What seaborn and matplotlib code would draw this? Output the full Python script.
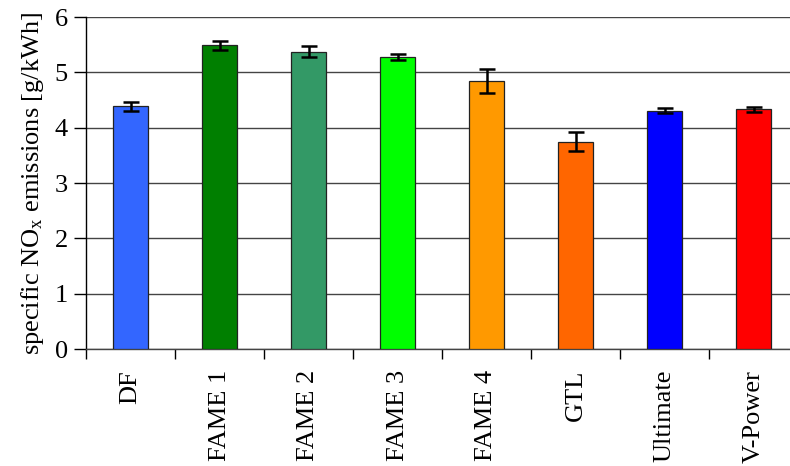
import matplotlib
matplotlib.use("Agg")
import matplotlib.pyplot as plt
import seaborn as sns
import pandas as pd
import numpy as np
from matplotlib.ticker import FixedLocator, MultipleLocator

categories = ["DF", "FAME 1", "FAME 2", "FAME 3", "FAME 4", "GTL", "Ultimate", "V-Power"]
values = [4.39, 5.49, 5.37, 5.28, 4.84, 3.75, 4.31, 4.33]
errors = [0.08, 0.08, 0.10, 0.06, 0.22, 0.17, 0.05, 0.05]
colors = ["#3366FF", "#007F00", "#339966", "#00FF00", "#FF9900", "#FF6600", "#0000FF", "#FF0000"]

FAM = "Liberation Serif"

sns.set_theme(style="white")
plt.rcParams["font.family"] = "serif"
plt.rcParams["font.serif"] = [FAM, "DejaVu Serif"]
plt.rcParams["mathtext.fontset"] = "custom"
plt.rcParams["mathtext.rm"] = FAM
plt.rcParams["mathtext.it"] = FAM + ":italic"
plt.rcParams["text.color"] = "black"
plt.rcParams["axes.labelcolor"] = "black"
plt.rcParams["xtick.color"] = "black"
plt.rcParams["ytick.color"] = "black"

df = pd.DataFrame({"fuel": categories, "nox": values})

fig = plt.figure(figsize=(7.9, 4.66), dpi=100)
ax = fig.add_axes([86 / 790, 1 - 349 / 466, (798 - 86) / 790, (349 - 17) / 466])

sns.barplot(data=df, x="fuel", y="nox", hue="fuel", palette=colors, order=categories,
            hue_order=categories, legend=False, errorbar=None, width=0.4, saturation=1,
            edgecolor="#222222", linewidth=0.9, ax=ax, zorder=3)

ax.errorbar(x=np.arange(len(categories)), y=values, yerr=errors, fmt="none",
            ecolor="black", elinewidth=1.8, capsize=5.8, capthick=1.8, zorder=4)

ax.set_ylim(0, 6)
ax.set_xlim(-0.5, len(categories) - 0.5)
ax.yaxis.set_major_locator(MultipleLocator(1))
ax.grid(axis="y", color="#444444", linewidth=1.0, zorder=0)
ax.set_axisbelow(True)

for s in ["top", "right"]:
    ax.spines[s].set_visible(False)
ax.spines["left"].set_color("black")
ax.spines["bottom"].set_color("#444444")
ax.spines["left"].set_linewidth(1.0)
ax.spines["bottom"].set_linewidth(1.0)

ax.tick_params(axis="y", which="major", direction="out", length=9, width=1.0,
               color="black", labelsize=19, pad=4, left=True, labelcolor="black")
ax.set_xticks(np.arange(len(categories)))
ax.set_xticklabels(categories, rotation=90, fontsize=19, family=FAM, color="black")
ax.tick_params(axis="x", which="major", length=0, pad=15)
ax.xaxis.set_minor_locator(FixedLocator(np.arange(len(categories)) - 0.5))
ax.tick_params(axis="x", which="minor", direction="out", length=7, width=1.0,
               color="black", bottom=True)
for t in ax.get_yticklabels():
    t.set_fontfamily(FAM)
    t.set_color("black")

ax.set_xlabel("")
ax.set_ylabel(r"specific NO$_\mathregular{x}$ emissions [g/kWh]", fontsize=19, labelpad=6,
              family=FAM, color="black")

fig.savefig("out.png", dpi=100)
